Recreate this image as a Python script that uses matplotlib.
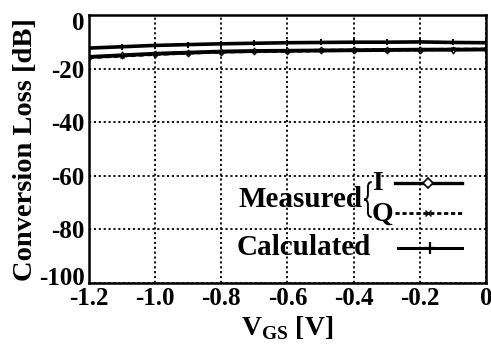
import numpy as np
import matplotlib
matplotlib.use("Agg")
import matplotlib.pyplot as plt
import matplotlib.transforms as mtrans
from matplotlib.path import Path
from matplotlib.patches import PathPatch

plt.rcParams['font.family'] = ['Liberation Serif', 'DejaVu Serif']
plt.rcParams['font.weight'] = 'bold'
plt.rcParams['axes.unicode_minus'] = False
plt.rcParams['mathtext.fontset'] = 'custom'
plt.rcParams['mathtext.rm'] = 'Liberation Serif:bold'

vgs = [-1.2, -1.1, -1.0, -0.9, -0.8, -0.7, -0.6, -0.5, -0.4, -0.3, -0.2, -0.1, 0.0]
loss_i = [-15.6, -15.0, -14.4, -14.0, -13.6, -13.4, -13.3, -13.2, -13.1, -13.0, -12.9, -12.9, -12.8]
loss_q = [-15.8, -15.2, -14.6, -14.1, -13.7, -13.5, -13.4, -13.2, -13.1, -13.0, -12.9, -12.8, -12.8]
loss_calc = [-12.3, -11.8, -11.3, -11.0, -10.7, -10.5, -10.3, -10.2, -10.1, -10.1, -10.0, -10.2, -10.3]

xticks = [-1.2, -1.0, -0.8, -0.6, -0.4, -0.2, 0]
xtick_labels = ['-1.2', '-1.0', '-0.8', '-0.6', '-0.4', '-0.2', '0']
yticks = [-100, -80, -60, -40, -20, 0]

fig = plt.figure(figsize=(4.91, 3.52), dpi=100)
ax = fig.add_axes([0.181, 0.196, 0.809, 0.761])

ax.plot(vgs, loss_calc, color='black', lw=2.6, marker='+', ms=5, mew=1.4)
ax.plot(vgs, loss_i, color='black', lw=2.8, marker='d', ms=3.5, mfc='white', mew=1.0)
ax.plot(vgs, loss_q, color='black', lw=2.4, ls=(0, (1.5, 1)), marker='x', ms=3, mew=1.0)

ax.set_xlim(-1.2, 0)
ax.set_ylim(-100, 0)
ax.set_xticks(xticks)
ax.set_xticklabels(xtick_labels)
ax.set_yticks(yticks)
ax.tick_params(length=0, labelsize=18, pad=3)
for lab in ax.get_xticklabels() + ax.get_yticklabels():
    lab.set_fontweight('bold')
# end labels sit a little inside, as in the original
ylabs = ax.get_yticklabels()
ylabs[0].set_transform(ylabs[0].get_transform() +
                       mtrans.ScaledTranslation(0, 5 / 72, fig.dpi_scale_trans))
ylabs[-1].set_transform(ylabs[-1].get_transform() +
                        mtrans.ScaledTranslation(0, -4 / 72, fig.dpi_scale_trans))
ax.grid(True, color='black', ls=(0, (1.2, 1.5)), lw=1.3)
for s in ax.spines.values():
    s.set_linewidth(1.8)

ax.set_xlabel(r'V$_{\mathregular{GS}}$ [V]', fontsize=20, fontweight='bold', labelpad=3)
ax.set_ylabel('Conversion Loss [dB]', fontsize=20.5, fontweight='bold', labelpad=1)

# hand-drawn legend
tr = ax.transAxes
ax.text(0.69, 0.31, 'Measured', transform=tr, ha='right', va='center',
        fontsize=21, fontweight='bold')
ax.text(0.373, 0.134, 'Calculated', transform=tr, ha='left', va='center',
        fontsize=21, fontweight='bold')
ax.text(0.713, 0.373, 'I', transform=tr, ha='left', va='center',
        fontsize=20, fontweight='bold')
ax.text(0.713, 0.255, 'Q', transform=tr, ha='left', va='center',
        fontsize=20, fontweight='bold')

# curly brace
x0, x1 = 0.693, 0.712
xm = (x0 + x1) / 2
yt, yb = 0.377, 0.246
ym = (yt + yb) / 2
d = 0.02
verts = [(x1, yt), (xm, yt), (xm, yt - d), (xm, ym + d), (xm, ym), (x0, ym),
         (xm, ym), (xm, ym - d), (xm, yb + d), (xm, yb), (x1, yb)]
codes = [Path.MOVETO, Path.CURVE3, Path.CURVE3, Path.LINETO, Path.CURVE3, Path.CURVE3,
         Path.CURVE3, Path.CURVE3, Path.LINETO, Path.CURVE3, Path.CURVE3]
ax.add_patch(PathPatch(Path(verts, codes), transform=tr, fill=False, lw=1.4,
                       edgecolor='black'))

ax.plot([0.771, 0.94], [0.373, 0.373], transform=tr, color='black', lw=2.4)
ax.plot([0.854], [0.373], transform=tr, color='black', marker='D', ms=5,
        mfc='white', mew=1.2)
ax.plot([0.771, 0.94], [0.261, 0.261], transform=tr, color='black', lw=2.0,
        ls=(0, (1.5, 1)))
ax.plot([0.854], [0.261], transform=tr, color='black', marker='x', ms=4, mew=1.0)
ax.plot([0.778, 0.94], [0.131, 0.131], transform=tr, color='black', lw=2.2)
ax.plot([0.859], [0.131], transform=tr, color='black', marker='+', ms=9, mew=1.6)

fig.savefig('out.png', dpi=100)
